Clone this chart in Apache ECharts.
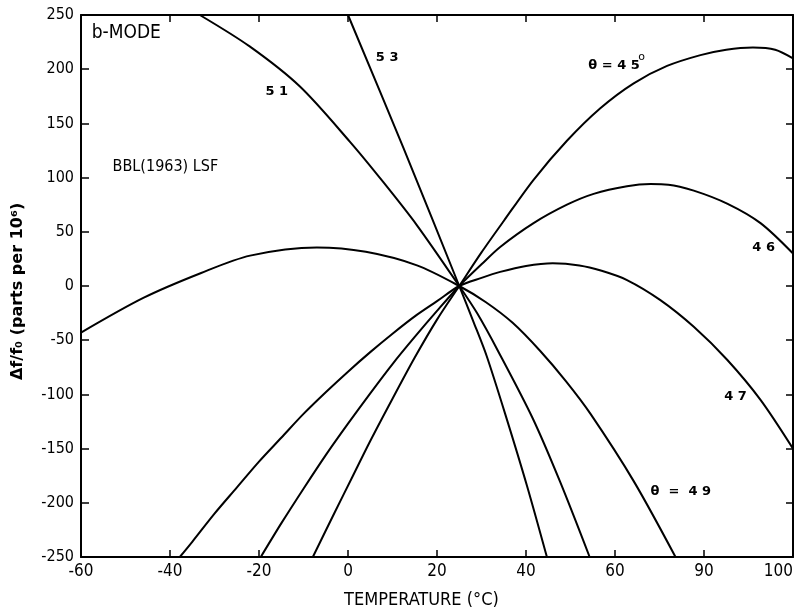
<!DOCTYPE html>
<html>
<head>
<meta charset="utf-8">
<script src="https://cdn.jsdelivr.net/npm/echarts@6/dist/echarts.min.js"></script>
<style>
html,body{margin:0;padding:0;background:#fff;overflow:hidden;}
#chart{width:798px;height:611px;}
</style>
</head>
<body>
<div id="chart"></div>
<script>
// ---- data (temperature °C, Δf/f0 in parts per 10^6) ----
const t45 = [-7.9, -3, 1, 5, 10, 15, 20, 25, 30, 35, 41.7, 49.2, 56.7, 64.2, 71.7, 79.2, 85, 91, 96, 100];
const v45 = [-250, -209, -176, -143, -104, -66, -31, 0, 31, 60, 98, 134, 164, 187, 203, 213, 218, 220, 218, 210];

const t46 = [-19.6, -15, -10, -5, 0, 5, 10, 15, 20, 25, 30, 34.2, 41.7, 49.2, 55.2, 62.7, 68, 72, 77.7, 85.2, 92.7, 100];
const v46 = [-250, -219, -187, -156, -127, -99, -72, -47, -23, 0, 20, 36, 58, 75, 85, 92, 94, 93.5, 88, 76, 58, 30];

const t47 = [-37.8, -35, -30, -25, -20, -15, -10, -5, 0, 5, 10, 15, 20, 25, 30, 34.2, 40, 46, 52, 57, 62.7, 70.2, 77.7, 85.2, 92.7, 100];
const v47 = [-250, -236, -210, -186, -162, -140, -118, -98, -79, -61, -44, -28, -14, 0, 7.5, 13, 18.5, 21, 19, 14, 5.5, -13, -37.6, -68, -105, -150];

const t49 = [-60, -46, -33, -22, -7, 4, 15.5, 25, 31, 37, 43.2, 49, 54.5, 64.2, 73.6];
const v49 = [-43, -11, 12, 28, 35.5, 31.5, 19, 0, -15, -34, -60, -88, -118, -180, -250];

const t51 = [-33.3, -22.1, -10.8, 0.45, 7.9, 15.5, 25, 29, 33.8, 41.5, 47.7, 54.3];
const v51 = [250, 221, 184, 133, 96, 56, 0, -25, -60.6, -122, -181, -250];

const t53 = [0, 12.5, 25, 28.2, 31.2, 35.7, 40.2, 44.7];
const v53 = [250, 127, 0, -33, -65, -123, -184, -250];

const xTickLabels = ['-60', '-40', '-20', '0', '20', '40', '60', '90', '100'];
const yTickLabels = ['-250', '-200', '-150', '-100', '-50', '0', '50', '100', '150', '200', '250'];

// annotation texts placed at data coordinates
const narrow = 'Liberation Sans Narrow, DejaVu Sans Condensed, sans-serif';
const annotations = [
  { text: 'b-MODE', t: -57.6, v: 233.5, size: 19, weight: 'normal', align: 'left', family: narrow },
  { text: 'BBL(1963) LSF', t: -52.9, v: 110, size: 16, weight: 'normal', align: 'left', family: narrow },
  { text: '5 1', t: -16, v: 179, size: 13, weight: 'bold', align: 'center' },
  { text: '5 3', t: 8.8, v: 211, size: 13, weight: 'bold', align: 'center' },
  { text: 'θ = 4 5', t: 54, v: 203, size: 13, weight: 'bold', align: 'left' },
  { text: 'o', t: 66, v: 211, size: 11, weight: 'normal', align: 'center' },
  { text: '4 6', t: 93.4, v: 35, size: 13, weight: 'bold', align: 'center' },
  { text: '4 7', t: 87.1, v: -102.5, size: 13, weight: 'bold', align: 'center' },
  { text: 'θ  =  4 9', t: 68, v: -190, size: 13, weight: 'bold', align: 'left' }
];

function pairs(ts, vs) { return ts.map((t, i) => [t, vs[i]]); }

const lineStyle = { color: '#000', width: 2 };
function curve(name, ts, vs) {
  return {
    name: name, type: 'line', data: pairs(ts, vs), smooth: 0.3,
    showSymbol: false, symbol: 'none', lineStyle: lineStyle, clip: true,
    xAxisIndex: 0, yAxisIndex: 0, silent: true
  };
}

const tickFont = { fontFamily: narrow, fontSize: 16, color: '#000' };

const chart = echarts.init(document.getElementById('chart'), null, { renderer: 'canvas', width: 798, height: 611 });
const option = {
  animation: false,
  backgroundColor: '#fff',
  grid: { left: 81, right: 5, top: 15, bottom: 54, show: false, containLabel: false, outerBoundsMode: 'none' },
  xAxis: [
    {
      type: 'value', min: -60, max: 100, interval: 20, position: 'bottom',
      axisLine: { show: true, onZero: false, lineStyle: { color: '#000', width: 2 } },
      axisTick: { show: true, inside: true, length: 7, lineStyle: { color: '#000', width: 1.5 } },
      splitLine: { show: false },
      axisLabel: Object.assign({ margin: 6, alignMaxLabel: 'right', formatter: v => xTickLabels[Math.round((v + 60) / 20)] }, tickFont, { fontSize: 17 })
    },
    {
      type: 'value', min: -60, max: 100, interval: 20, position: 'top',
      axisLine: { show: true, onZero: false, lineStyle: { color: '#000', width: 2 } },
      axisTick: { show: true, inside: true, length: 7, lineStyle: { color: '#000', width: 1.5 } },
      splitLine: { show: false }, axisLabel: { show: false }
    }
  ],
  yAxis: [
    {
      type: 'value', min: -250, max: 250, interval: 50, position: 'left',
      axisLine: { show: true, onZero: false, lineStyle: { color: '#000', width: 2 } },
      axisTick: { show: true, inside: true, length: 8, lineStyle: { color: '#000', width: 1.5 } },
      splitLine: { show: false },
      axisLabel: Object.assign({ margin: 7, formatter: v => yTickLabels[Math.round((v + 250) / 50)] }, tickFont)
    },
    {
      type: 'value', min: -250, max: 250, interval: 50, position: 'right',
      axisLine: { show: true, onZero: false, lineStyle: { color: '#000', width: 2 } },
      axisTick: { show: true, inside: true, length: 7, lineStyle: { color: '#000', width: 1.5 } },
      splitLine: { show: false }, axisLabel: { show: false }
    }
  ],
  series: [
    curve('45', t45, v45),
    curve('46', t46, v46),
    curve('47', t47, v47),
    curve('49', t49, v49),
    curve('51', t51, v51),
    curve('53', t53, v53)
  ]
};
chart.setOption(option);

// annotations & axis titles
const graphics = annotations.map(a => {
  const p = chart.convertToPixel({ xAxisIndex: 0, yAxisIndex: 0 }, [a.t, a.v]);
  return {
    type: 'text', x: p[0], y: p[1], silent: true,
    style: {
      text: a.text, fill: '#000',
      font: (a.weight === 'bold' ? 'bold ' : '') + a.size + 'px ' + (a.family || 'DejaVu Sans, sans-serif'),
      align: a.align, verticalAlign: 'middle'
    }
  };
});
const bottomCenter = chart.convertToPixel({ xAxisIndex: 0, yAxisIndex: 0 }, [16.5, -250]);
graphics.push({
  type: 'text', x: bottomCenter[0], y: 600, silent: true,
  style: { text: 'TEMPERATURE (°C)', fill: '#000', font: '18px ' + narrow, align: 'center', verticalAlign: 'middle' }
});
const leftMid = chart.convertToPixel({ xAxisIndex: 0, yAxisIndex: 0 }, [-60, -5]);
graphics.push({
  type: 'text', x: 18, y: leftMid[1], rotation: Math.PI / 2, silent: true,
  style: { text: 'Δf/f₀ (parts per 10⁶)', fill: '#000', font: 'bold 16px DejaVu Sans, sans-serif', align: 'center', verticalAlign: 'middle' }
});
chart.setOption({ graphic: graphics });
</script>
</body>
</html>
